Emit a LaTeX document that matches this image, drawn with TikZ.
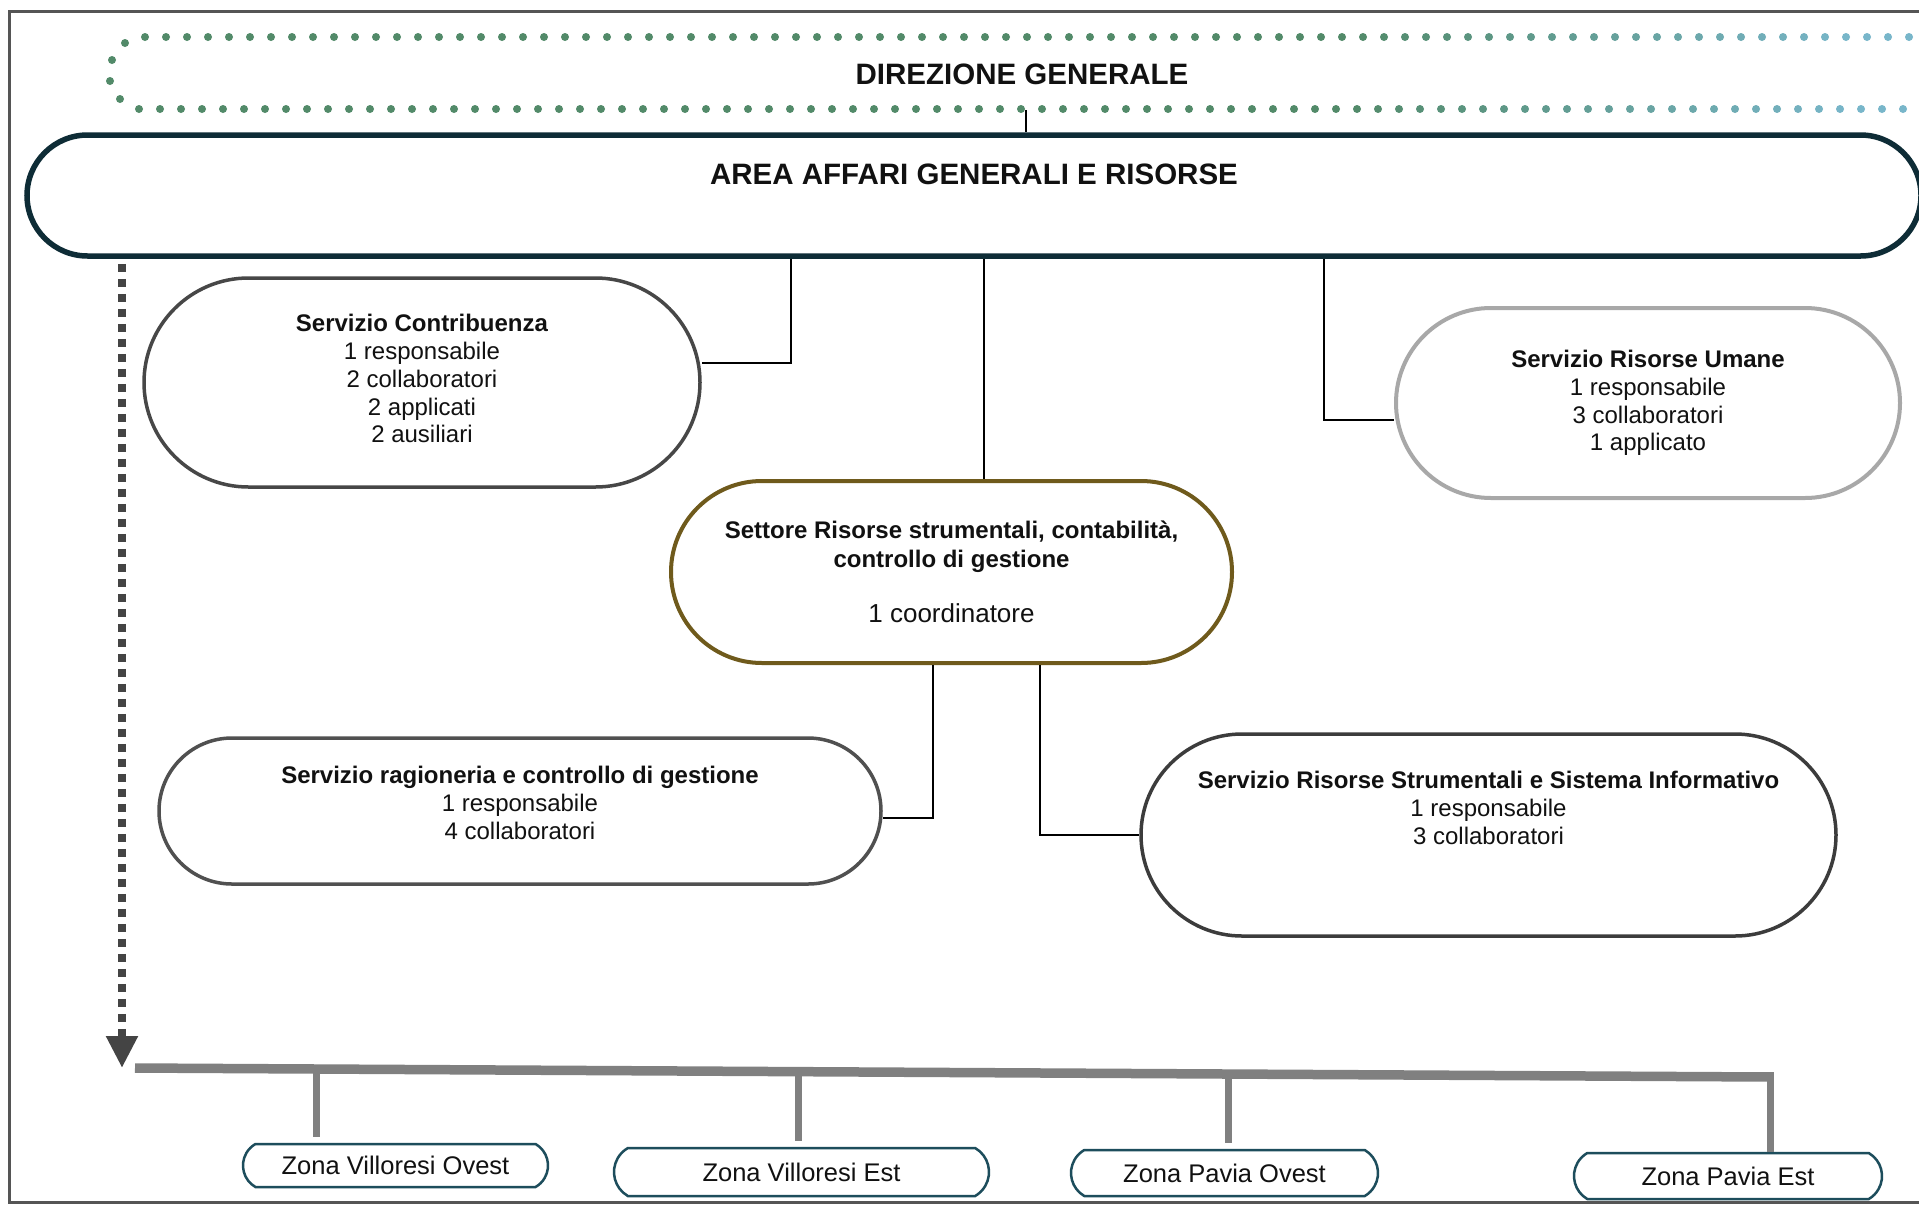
\documentclass[tikz,border=0pt]{standalone}
\usepackage{fontspec}
\setmainfont{Liberation Sans}
\usetikzlibrary{shapes.misc,arrows.meta,calc}
\definecolor{framecol}{HTML}{555555}
\definecolor{dotA}{HTML}{528A69}
\definecolor{dotB}{HTML}{78B6CA}
\definecolor{areacol}{HTML}{0E2C36}
\definecolor{contcol}{HTML}{474747}
\definecolor{rumcol}{HTML}{A8A8A8}
\definecolor{setcol}{HTML}{6F5A1C}
\definecolor{ragcol}{HTML}{505050}
\definecolor{strcol}{HTML}{3C3C3C}
\definecolor{zonecol}{HTML}{1D4D5C}
\definecolor{buscol}{HTML}{808080}
\definecolor{arrcol}{HTML}{444444}
\definecolor{txtcol}{HTML}{111111}
\begin{document}
\begin{tikzpicture}[x=1pt,y=-1pt,
  pill/.style={rounded rectangle, align=center, inner sep=0pt, text=txtcol,
    font=\fontsize{24}{27.8}\selectfont},
  zone/.style={rounded rectangle, rounded rectangle arc length=120, draw=zonecol, line width=2.5pt,
    inner sep=0pt, text=txtcol, font=\fontsize{25.5}{28}\selectfont},
  conn/.style={draw=black, line width=2pt},
  busline/.style={draw=buscol, line width=9.5pt},
  drop/.style={draw=buscol, line width=7pt},
  darrow/.style={draw=arrcol, line width=8pt, dash pattern=on 8pt off 7pt,
    -{Triangle[length=32pt,width=30pt]}}
]
\useasboundingbox (0,0) rectangle (1919,1205);
\fill[white] (0,0) rectangle (1919,1205);
\draw[framecol, line width=3pt] (9,11) rectangle (1940,1202);

% Direzione generale (dotted box)
\foreach \x in {145,166,...,1919} {
  \pgfmathtruncatemacro\p{max(0,min(100,(\x-1350)/5))}
  \fill[dotB!\p!dotA] (\x,37) circle (4);
}
\foreach \x in {139,160,...,1919} {
  \pgfmathtruncatemacro\p{max(0,min(100,(\x-1350)/5))}
  \fill[dotB!\p!dotA] (\x,109) circle (4);
}
\foreach \x/\y in {125/43,112/60,110/81,120/99} {
  \fill[dotA] (\x,\y) circle (4);
}
\node[rectangle, minimum width=1828pt, minimum height=72pt, inner sep=0pt,
  text=txtcol, font=\bfseries\fontsize{29.5}{32}\selectfont] (dir) at (1022,74) {DIREZIONE GENERALE};

% Area
\node[rounded rectangle, draw=areacol, line width=5.5pt, minimum width=1894pt, minimum height=121pt,
  inner sep=0pt, text=txtcol, font=\bfseries\fontsize{29.5}{32}\selectfont] (area) at (974,195.5)
  {AREA AFFARI GENERALI E RISORSE\rule[-43pt]{0pt}{43pt}};

\node[pill, draw=contcol, line width=3.5pt, minimum width=556pt, minimum height=209pt] (cont) at (422,382.5)
  {\textbf{Servizio Contribuenza}\\1 responsabile\\2 collaboratori\\2 applicati\\2 ausiliari\rule[-8pt]{0pt}{8pt}};

\node[pill, draw=rumcol, line width=4pt, minimum width=504pt, minimum height=190pt] (rum) at (1648,403)
  {\textbf{Servizio Risorse Umane}\\1 responsabile\\3 collaboratori\\1 applicato};

\node[pill, draw=setcol, line width=4pt, minimum width=561pt, minimum height=182pt,
  font=\fontsize{24}{28.8}\selectfont] (set) at (951.5,572)
  {\textbf{Settore Risorse strumentali, contabilità,}\\\textbf{controllo di gestione}\\[27pt]{\fontsize{26}{29}\selectfont 1 coordinatore}};

\node[pill, draw=ragcol, line width=3.5pt, minimum width=722pt, minimum height=146pt] (rag) at (520,811)
  {\textbf{Servizio ragioneria e controllo di gestione}\\1 responsabile\\4 collaboratori\rule[-16pt]{0pt}{16pt}};

\node[pill, draw=strcol, line width=3.5pt, minimum width=695pt, minimum height=202pt] (str) at (1488.5,835)
  {\textbf{Servizio Risorse Strumentali e Sistema Informativo}\\1 responsabile\\3 collaboratori\rule[-54pt]{0pt}{54pt}};

% Zones
\node[zone, minimum width=305pt, minimum height=43pt] (zvo) at (395.5,1165.5) {Zona Villoresi Ovest};
\node[zone, minimum width=375pt, minimum height=48pt] (zve) at (801.5,1172) {Zona Villoresi Est};
\node[zone, minimum width=307pt, minimum height=46pt] (zpo) at (1224.5,1173) {Zona Pavia Ovest};
\node[zone, minimum width=308pt, minimum height=46pt] (zpe) at (1728,1176) {Zona Pavia Est};

% Connectors
\draw[conn] ([xshift=4pt]dir.south) -- ([xshift=4pt]dir.south |- area.north);
\draw[conn] ([xshift=-183pt]area.south) |- ([yshift=19.5pt]cont.east);
\draw[conn] ([xshift=10pt]area.south) -- ([xshift=10pt]area.south |- set.north);
\draw[conn] ([xshift=350pt]area.south) |- ([yshift=-17pt]rum.west);
\draw[conn] ([xshift=-18.5pt]set.south) |- ([yshift=-7pt]rag.east);
\draw[conn] ([xshift=88.5pt]set.south) |- (str.west);

% Bus to zones
\coordinate (busL) at (135,1068);
\coordinate (busR) at (1770,1077);
\draw[busline] (busL) -- (busR);
\draw[drop] ([yshift=4.75pt]busR) -- (busR |- zpe.north);
\coordinate (d1) at ($(busL)!0.111!(busR)$);
\coordinate (d2) at ($(busL)!0.4055!(busR)$);
\coordinate (d3) at ($(busL)!0.669!(busR)$);
\draw[drop, shorten >=6pt] (d1) -- (d1 |- zvo.north);
\draw[drop, shorten >=6pt] (d2) -- (d2 |- zve.north);
\draw[drop, shorten >=6pt] (d3) -- (d3 |- zpo.north);

% Dotted arrow
\draw[darrow] ([xshift=-852pt,yshift=-5pt]area.south) -- ([xshift=-852pt]area.south |- busL);
\end{tikzpicture}
\end{document}
